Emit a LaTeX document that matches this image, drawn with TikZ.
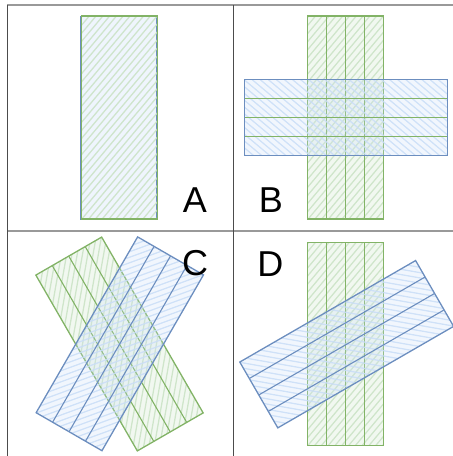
\documentclass[tikz,border=0pt]{standalone}
\usepackage{fontspec}
\setmainfont{Liberation Sans}
\definecolor{gstroke}{HTML}{82B366}
\definecolor{bstroke}{HTML}{6C8EBF}
\definecolor{ghatch}{HTML}{C9E2C4}
\definecolor{bhatch}{HTML}{C9DDF7}
\tikzset{
  frameh/.style={draw=black!40, line width=1.2pt},
  framev/.style={draw=black!70, line width=0.9pt},
  lbl/.style={inner sep=0pt, font=\fontsize{36}{36}\selectfont, text=black},
}
% #1 cx, #2 cy, #3 rotation, #4 stroke, #5 hatch, #6 divider colour
\newcommand{\mystrip}[6]{%
\begin{scope}[shift={(#1,#2)}, rotate=#3]
  \begin{scope}
    \clip (-38,-101.5) rectangle (38,101.5);
    \fill[#5, opacity=0.25] (-38,-101.5) rectangle (38,101.5);
    \begin{scope}[rotate=50]
      \foreach \k in {-21,...,21}
        \draw[#5, line width=1.3pt, opacity=0.85] (-130,\k*5.2) -- (130,\k*5.2);
    \end{scope}
  \end{scope}
  \foreach \xx in {-19,0,19}
    \draw[#6, line width=1.1pt] (\xx,-101.5) -- (\xx,101.5);
  \draw[#4, line width=1.3pt] (-38,-101.5) rectangle (38,101.5);
\end{scope}}
\begin{document}
\begin{tikzpicture}[x=1pt, y=-1pt]
\useasboundingbox (0,0) rectangle (453,456);
% frame
\coordinate (tl) at (7,5);
\coordinate (tr) at (453,5);
\coordinate (bl) at (7,456);
\coordinate (mt) at (233,5);
\coordinate (mb) at (233,456);
\coordinate (ml) at (7,231);
\coordinate (mr) at (453,231);
\draw[frameh] (tl) -- (tr);
\draw[frameh] (ml) -- (mr);
\draw[framev] (tl) -- (bl);
\draw[framev] (mt) -- (mb);

% Panel A
\begin{scope}[shift={(119.5,117.5)}]
  \begin{scope}[shift={(-1,0.5)}]
    \begin{scope}
      \clip (-38,-101.5) rectangle (38,101.5);
      \fill[bhatch, opacity=0.3] (-38,-101.5) rectangle (38,101.5);
    \end{scope}
    \draw[bstroke, line width=1.3pt] (-38,-101.5) rectangle (38,101.5);
  \end{scope}
  \begin{scope}
    \clip (-38,-101.5) rectangle (38,101.5);
    \begin{scope}[rotate=50]
      \foreach \k in {-21,...,21}
        \draw[ghatch, line width=1.3pt, opacity=0.85] (-130,\k*5.2) -- (130,\k*5.2);
    \end{scope}
  \end{scope}
  \draw[gstroke, line width=1.3pt] (-38,-101.5) rectangle (38,101.5);
\end{scope}
\node[lbl] (A) at (195,200) {A};

% Panel B
\mystrip{345.8}{117.5}{0}{gstroke}{ghatch}{gstroke}
\mystrip{345.8}{117.5}{90}{bstroke}{bhatch}{gstroke}
\node[lbl] (B) at (271,200.5) {B};

% Panel C
\mystrip{119.5}{344}{30}{gstroke}{ghatch}{gstroke}
\mystrip{119.8}{343.8}{-30}{bstroke}{bhatch}{bstroke}
\node[lbl] (C) at (195,263) {C};

% Panel D
\mystrip{345.8}{343.7}{0}{gstroke}{ghatch}{gstroke}
\mystrip{346.7}{344.2}{-60}{bstroke}{bhatch}{bstroke}
\node[lbl] (D) at (270.3,263.7) {D};
\end{tikzpicture}
\end{document}
